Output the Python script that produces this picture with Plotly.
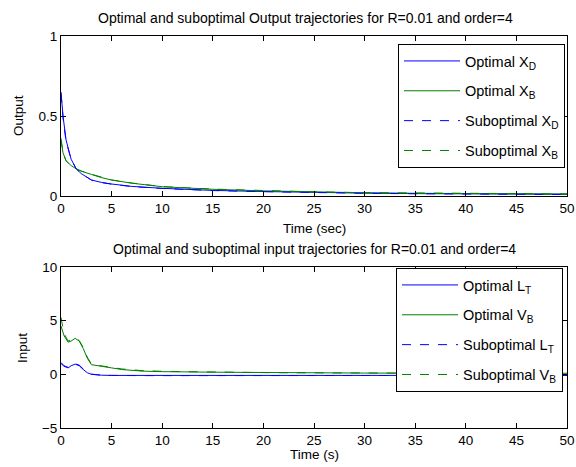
import plotly.graph_objects as go

# ---- data: output trajectories (top) ----
t_out = [0, 0.2, 0.5, 1, 1.5, 2, 3, 4, 5, 7, 10, 15, 20, 25, 30, 35, 40, 45, 50]
xd_opt = [0.65, 0.50, 0.35, 0.23, 0.17, 0.14, 0.10, 0.085, 0.075, 0.06, 0.048, 0.035, 0.028, 0.022, 0.018, 0.015, 0.013, 0.012, 0.011]
xb_opt = [0.35, 0.27, 0.22, 0.19, 0.17, 0.155, 0.135, 0.115, 0.10, 0.08, 0.058, 0.042, 0.032, 0.025, 0.02, 0.017, 0.015, 0.013, 0.012]
xd_sub = [0.64, 0.49, 0.34, 0.23, 0.17, 0.14, 0.10, 0.084, 0.074, 0.059, 0.047, 0.034, 0.027, 0.021, 0.017, 0.014, 0.012, 0.010, 0.009]
xb_sub = [0.36, 0.27, 0.22, 0.19, 0.17, 0.156, 0.136, 0.116, 0.10, 0.081, 0.059, 0.043, 0.033, 0.026, 0.021, 0.018, 0.016, 0.014, 0.013]

# ---- data: input trajectories (bottom) ----
t_in = [0, 0.3, 0.7, 1.0, 1.4, 1.8, 2.2, 2.6, 3.0, 3.5, 4, 5, 6, 8, 10, 15, 20, 30, 40, 50]
lt_opt = [1.0, 0.75, 0.6, 0.8, 0.95, 0.8, 0.45, 0.15, 0.0, -0.05, -0.08, -0.1, -0.1, -0.1, -0.1, -0.1, -0.1, -0.1, -0.1, -0.1]
vb_opt = [4.5, 3.6, 3.0, 3.1, 3.35, 3.1, 2.4, 1.5, 0.9, 0.8, 0.75, 0.6, 0.45, 0.3, 0.25, 0.2, 0.15, 0.12, 0.1, 0.1]
lt_sub = [1.1, 0.8, 0.65, 0.85, 1.0, 0.85, 0.5, 0.2, 0.02, -0.04, -0.08, -0.1, -0.12, -0.12, -0.12, -0.12, -0.1, -0.1, -0.1, -0.1]
vb_sub = [5.3, 3.8, 3.1, 3.2, 3.4, 3.15, 2.5, 1.6, 0.95, 0.85, 0.8, 0.65, 0.5, 0.35, 0.28, 0.22, 0.16, 0.12, 0.1, 0.1]

BLUE = "#0000ff"
GREEN = "#008000"
FONT = "Liberation Sans, Arial, sans-serif"
FS = 13.5
TFS = 14
LFS = 14.5

W, H = 576, 467


def px(x):
    return x / W


def py(y):
    return (H - y) / H


fig = go.Figure()

top = [
    (xd_opt, BLUE, "solid", "Optimal X<sub>D</sub>"),
    (xb_opt, GREEN, "solid", "Optimal X<sub>B</sub>"),
    (xd_sub, BLUE, "dash", "Suboptimal X<sub>D</sub>"),
    (xb_sub, GREEN, "dash", "Suboptimal X<sub>B</sub>"),
]
for i, (y, c, d, name) in enumerate(top):
    fig.add_trace(go.Scatter(x=t_out, y=y, mode="lines", name=name,
                             line=dict(color=c, width=1, dash=d),
                             xaxis="x", yaxis="y", legend="legend",
                             legendgroup=f"a{i}"))

bot = [
    (lt_opt, BLUE, "solid", "Optimal L<sub>T</sub>"),
    (vb_opt, GREEN, "solid", "Optimal V<sub>B</sub>"),
    (lt_sub, BLUE, "dash", "Suboptimal L<sub>T</sub>"),
    (vb_sub, GREEN, "dash", "Suboptimal V<sub>B</sub>"),
]
for i, (y, c, d, name) in enumerate(bot):
    fig.add_trace(go.Scatter(x=t_in, y=y, mode="lines", name=name,
                             line=dict(color=c, width=1, dash=d),
                             xaxis="x2", yaxis="y2", legend="legend2",
                             legendgroup=f"b{i}"))

ax_common = dict(showgrid=False, zeroline=False, showline=True, linecolor="black",
                 linewidth=1, mirror="ticks", ticks="inside", ticklen=5,
                 tickcolor="black", ticklabeloverflow="allow", automargin=False,
                 tickfont=dict(size=FS, color="black", family=FONT))

xd = [px(61), px(567)]
fig.update_layout(
    width=W, height=H,
    margin=dict(l=0, r=0, t=0, b=0, autoexpand=False),
    paper_bgcolor="white", plot_bgcolor="white",
    font=dict(family=FONT, color="black", size=FS),
    xaxis=dict(domain=xd, range=[0, 50], tickvals=list(range(0, 55, 5)), anchor="y", **ax_common),
    yaxis=dict(domain=[py(196), py(36)], range=[0, 1],
               tickvals=[0, 0.5, 1], anchor="x", **ax_common),
    xaxis2=dict(domain=xd, range=[0, 50], tickvals=list(range(0, 55, 5)), anchor="y2", **ax_common),
    yaxis2=dict(domain=[py(428), py(267)], range=[-5, 10],
                tickvals=[-5, 0, 5, 10], anchor="x2", **ax_common),
    legend=dict(x=px(565), xanchor="right", y=py(44), yanchor="top",
                bgcolor="white", bordercolor="black", borderwidth=1,
                font=dict(size=LFS, family=FONT), itemwidth=56, tracegroupgap=8),
    legend2=dict(x=px(563), xanchor="right", y=py(268), yanchor="top",
                 bgcolor="white", bordercolor="black", borderwidth=1,
                 font=dict(size=LFS, family=FONT), itemwidth=56, tracegroupgap=8),
    showlegend=True,
)

labels = [
    ("Optimal and suboptimal Output trajectories for R=0.01 and order=4", 305, 18, 0, TFS),
    ("Optimal and suboptimal input trajectories for R=0.01 and order=4", 314, 249, 0, TFS),
    ("Time (sec)", 314, 228, 0, FS),
    ("Time (s)", 314, 454, 0, FS),
    ("Output", 18, 116, -90, FS),
    ("Input", 22, 348, -90, FS),
]
for text, x, y, ang, fs in labels:
    fig.add_annotation(text=text, x=px(x), y=py(y), xref="paper", yref="paper",
                       showarrow=False, textangle=ang, font=dict(size=fs),
                       xanchor="center", yanchor="middle")

fig.write_html("out.html", config={"displayModeBar": False},
               post_script="document.body.style.margin='0';document.body.style.overflow='hidden';")
